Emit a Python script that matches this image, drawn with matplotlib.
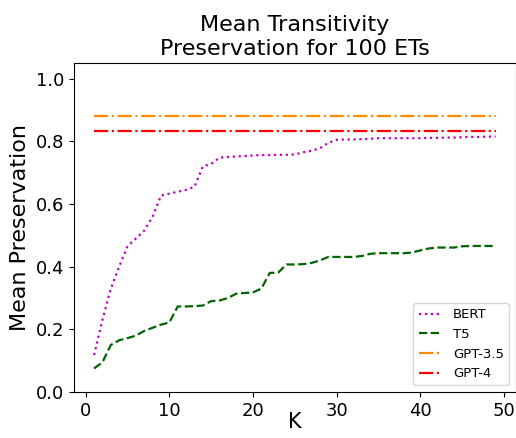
import matplotlib
matplotlib.use("Agg")
import matplotlib.pyplot as plt

k_values = list(range(1, 50))
bert = [0.118, 0.23, 0.33, 0.40, 0.465, 0.49, 0.515, 0.56, 0.627, 0.633,
        0.639, 0.645, 0.655, 0.72, 0.728, 0.748, 0.750, 0.752, 0.753, 0.755,
        0.756, 0.756, 0.757, 0.757, 0.758, 0.765, 0.770, 0.778, 0.795, 0.805,
        0.806, 0.806, 0.807, 0.808, 0.810, 0.810, 0.810, 0.810, 0.810, 0.810,
        0.811, 0.811, 0.812, 0.812, 0.813, 0.814, 0.814, 0.815, 0.815]
t5 = [0.075, 0.095, 0.15, 0.165, 0.172, 0.18, 0.195, 0.205, 0.215, 0.222,
      0.273, 0.273, 0.274, 0.276, 0.29, 0.292, 0.30, 0.314, 0.316, 0.318,
      0.33, 0.38, 0.381, 0.407, 0.407, 0.408, 0.412, 0.42, 0.431, 0.431,
      0.431, 0.431, 0.434, 0.441, 0.443, 0.443, 0.443, 0.443, 0.445, 0.452,
      0.458, 0.461, 0.461, 0.461, 0.465, 0.466, 0.466, 0.466, 0.466]
gpt35_value = 0.882
gpt4_value = 0.832

fig = plt.figure(figsize=(5.16, 4.38), dpi=100)
ax = fig.add_axes([0.1434, 0.105, 0.856, 0.7512])

ax.plot(k_values, bert, linestyle=':', color='m', linewidth=1.6, label='BERT')
ax.plot(k_values, t5, linestyle='--', color='darkgreen', linewidth=1.6, label='T5')
ax.plot(k_values, [gpt35_value] * len(k_values), linestyle='-.', color='darkorange', linewidth=1.6, label='GPT-3.5')
ax.plot(k_values, [gpt4_value] * len(k_values), linestyle='-.', color='red', linewidth=1.6, label='GPT-4')

ax.set_ylim(0, 1.05)
ax.set_xticks([0, 10, 20, 30, 40, 50])
ax.set_yticks([0.0, 0.2, 0.4, 0.6, 0.8, 1.0])
ax.tick_params(labelsize=13)
ax.set_xlabel('K', fontsize=15)
ax.xaxis.set_label_coords(0.5, -0.062)
ax.set_ylabel('Mean Preservation', fontsize=16)
ax.set_title('Mean Transitivity\nPreservation for 100 ETs', fontsize=16)
ax.legend(loc='lower right', fontsize=9.5, handlelength=1.8)

fig.savefig('out.png', dpi=100)
